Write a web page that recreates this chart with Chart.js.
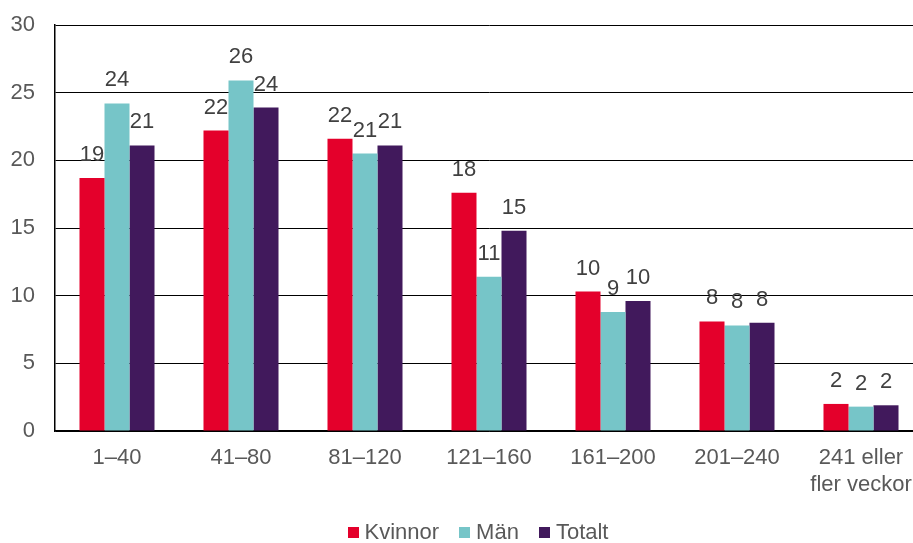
<!DOCTYPE html>
<html>
<head>
<meta charset="utf-8">
<script src="https://cdn.jsdelivr.net/npm/chart.js@4"></script>
<style>
  html, body { margin: 0; padding: 0; background: #fff; overflow: hidden; }
  #wrap { width: 913px; height: 543px; overflow: hidden; position: relative; }
  #box { width: 956px; height: 543px; position: absolute; left: 0; top: 0; }
  #legend { position: absolute; left: 0; width: 956px; top: 518px; text-align: center;
            font: 22px 'Liberation Sans', Arial, sans-serif; color: #595959; line-height: 28px; }
  #legend span.item { display: inline-block; margin: 0 10px; }
  #legend span.sw { display: inline-block; width: 11px; height: 11px; margin-right: 6px; vertical-align: 1px; }
</style>
</head>
<body>
<div id="wrap">
  <div id="box"><canvas id="chart"></canvas></div>
  <div id="legend"></div>
</div>
<script>
// categories and values
const categories = ["1–40", "41–80", "81–120", "121–160", "161–200", "201–240", ["241 eller", "fler veckor"]];
const kvinnor = [18.7, 22.2, 21.6, 17.6, 10.3, 8.1, 2.0];
const man = [24.2, 25.9, 20.5, 11.4, 8.8, 7.8, 1.8];
const totalt = [21.1, 23.9, 21.1, 14.8, 9.6, 8.0, 1.9];
const yTicks = [0, 5, 10, 15, 20, 25, 30];

const FONT = "'Liberation Sans', Arial, sans-serif";

// draw rounded value above each bar
const valueLabels = {
  id: "valueLabels",
  afterDatasetsDraw(chart) {
    const ctx = chart.ctx;
    ctx.save();
    ctx.font = "22px " + FONT;
    ctx.fillStyle = "#404040";
    ctx.textAlign = "center";
    ctx.textBaseline = "alphabetic";
    chart.data.datasets.forEach((ds, i) => {
      chart.getDatasetMeta(i).data.forEach((bar, j) => {
        ctx.fillText(Math.round(ds.data[j]), bar.x, bar.y - 17);
      });
    });
    ctx.restore();
  }
};

const chart = new Chart(document.getElementById("chart").getContext("2d"), {
  type: "bar",
  data: {
    labels: categories,
    datasets: [
      { label: "Kvinnor", data: kvinnor, backgroundColor: "#e4002b" },
      { label: "Män", data: man, backgroundColor: "#76c5c8" },
      { label: "Totalt", data: totalt, backgroundColor: "#41195c" }
    ]
  },
  options: {
    responsive: true,
    maintainAspectRatio: false,
    animation: false,
    layout: { padding: { top: 25, left: 0, right: 33, bottom: 0 } },
    datasets: { bar: { categoryPercentage: 0.605, barPercentage: 1.0 } },
    plugins: {
      legend: { display: false },
      tooltip: { enabled: false }
    },
    scales: {
      x: {
        afterFit(scale) { scale.height = 112; scale.paddingTop = 0; scale.paddingBottom = 0; },
        grid: { display: false, drawTicks: false },
        border: { color: "#000", width: 1.5 },
        ticks: {
          color: "#595959", padding: 14, maxRotation: 0, autoSkip: false,
          font: { size: 22, family: FONT }
        }
      },
      y: {
        min: 0, max: 30,
        afterFit(scale) { scale.width = 55; scale.paddingTop = 0; scale.paddingBottom = 0; },
        afterBuildTicks(scale) { scale.ticks = yTicks.map(v => ({ value: v })); },
        grid: { color: "#000", lineWidth: 1, drawTicks: false },
        border: { color: "#000", width: 1.5 },
        ticks: {
          color: "#595959", padding: 20,
          font: { size: 22, family: FONT }
        }
      }
    }
  },
  plugins: [valueLabels]
});

// html legend built from the datasets
const legend = document.getElementById("legend");
chart.data.datasets.forEach(ds => {
  const item = document.createElement("span");
  item.className = "item";
  const sw = document.createElement("span");
  sw.className = "sw";
  sw.style.background = ds.backgroundColor;
  item.appendChild(sw);
  item.appendChild(document.createTextNode(ds.label));
  legend.appendChild(item);
});
</script>
</body>
</html>
